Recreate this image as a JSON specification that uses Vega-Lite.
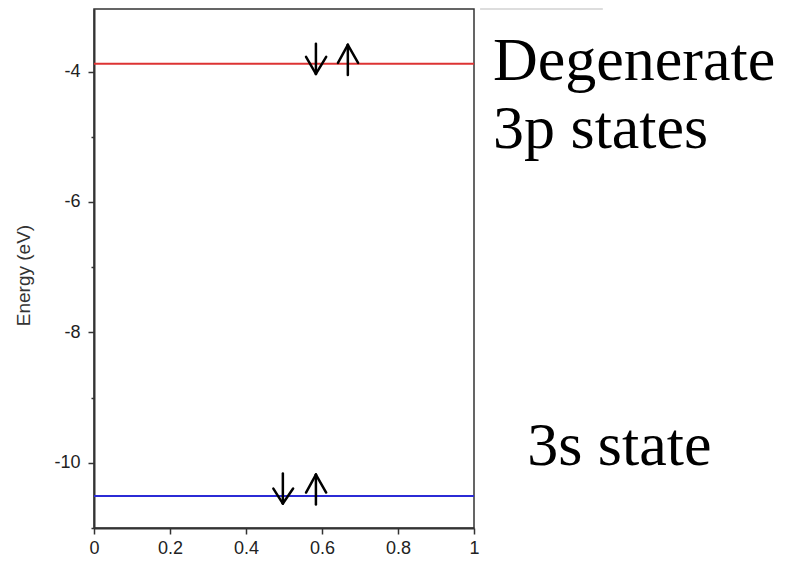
{
  "$schema": "https://vega.github.io/schema/vega-lite/v6.json",
  "width": 380,
  "height": 519,
  "autosize": {"type": "none"},
  "padding": {"left": 94, "top": 9, "right": 319, "bottom": 33},
  "background": "white",
  "config": {
    "view": {"stroke": "#333", "strokeWidth": 1.5},
    "axis": {
      "domainColor": "#333",
      "domainWidth": 2,
      "tickColor": "#333",
      "tickWidth": 1.5,
      "labelColor": "#222",
      "labelFont": "Liberation Sans",
      "labelFontSize": 18,
      "titleFont": "Liberation Sans",
      "titleFontSize": 19,
      "titleFontWeight": "normal",
      "titleColor": "#333",
      "grid": false
    }
  },
  "datasets": {
    "segs": [
      {"x": 0, "x2": 1, "y": -3.88, "y2": -3.88, "kind": "3p"},
      {"x": 0, "x2": 1, "y": -10.51, "y2": -10.51, "kind": "3s"},
      {"x": 0.584, "x2": 0.584, "y": -3.574, "y2": -4.035, "kind": "arrow"},
      {"x": 0.558, "x2": 0.584, "y": -3.774, "y2": -4.035, "kind": "arrow"},
      {"x": 0.611, "x2": 0.584, "y": -3.774, "y2": -4.035, "kind": "arrow"},
      {"x": 0.668, "x2": 0.668, "y": -3.59, "y2": -4.051, "kind": "arrow"},
      {"x": 0.642, "x2": 0.668, "y": -3.866, "y2": -3.59, "kind": "arrow"},
      {"x": 0.695, "x2": 0.668, "y": -3.866, "y2": -3.59, "kind": "arrow"},
      {"x": 0.497, "x2": 0.497, "y": -10.164, "y2": -10.625, "kind": "arrow"},
      {"x": 0.472, "x2": 0.497, "y": -10.395, "y2": -10.625, "kind": "arrow"},
      {"x": 0.524, "x2": 0.497, "y": -10.395, "y2": -10.625, "kind": "arrow"},
      {"x": 0.584, "x2": 0.584, "y": -10.18, "y2": -10.64, "kind": "arrow"},
      {"x": 0.558, "x2": 0.584, "y": -10.456, "y2": -10.18, "kind": "arrow"},
      {"x": 0.611, "x2": 0.584, "y": -10.456, "y2": -10.18, "kind": "arrow"},
      {"x": 1.016, "x2": 1.339, "y": -3.04, "y2": -3.04, "kind": "edge"}
    ],
    "labels": [
      {"x": 1.05, "y": -4.127, "label": "Degenerate"},
      {"x": 1.05, "y": -5.172, "label": "3p states"},
      {"x": 1.14, "y": -10.04, "label": "3s state"}
    ]
  },
  "layer": [
    {
      "data": {"name": "segs"},
      "transform": [{"filter": "datum.kind == '3p' || datum.kind == '3s'"}],
      "mark": {"type": "rule", "strokeWidth": 2},
      "encoding": {
        "x": {
          "field": "x", "type": "quantitative",
          "scale": {"domain": [0, 1], "nice": false, "zero": false},
          "axis": {
            "title": null,
            "values": [0, 0.1, 0.2, 0.3, 0.4, 0.5, 0.6, 0.7, 0.8, 0.9, 1],
            "format": ".1~f",
            "labelExpr": "round(datum.value*10)%2==0 ? datum.label : ''",
            "tickSize": {"condition": {"test": "round(datum.value*10)%2==1", "value": 3}, "value": 6},
            "labelPadding": 5,
            "labelFlush": false,
            "labelOverlap": false
          }
        },
        "x2": {"field": "x2"},
        "y": {
          "field": "y", "type": "quantitative",
          "scale": {"domain": [-11.0, -3.04], "nice": false, "zero": false},
          "axis": {
            "title": "Energy (eV)",
            "values": [-11, -10, -9, -8, -7, -6, -5, -4],
            "labelExpr": "abs(round(datum.value))%2==0 ? '-' + abs(datum.value) : ''",
            "tickSize": {"condition": {"test": "abs(round(datum.value))%2==1", "value": 3}, "value": 6},
            "labelPadding": 8,
            "labelFlush": false,
            "labelOverlap": false,
            "titleX": -71,
            "titleY": 266,
            "titleBaseline": "middle",
            "titleAlign": "center",
            "titleAngle": 270
          }
        },
        "color": {
          "field": "kind", "type": "nominal",
          "scale": {"domain": ["3p", "3s"], "range": ["#dd3333", "#2b2bd6"]},
          "legend": null
        }
      }
    },
    {
      "data": {"name": "segs"},
      "transform": [{"filter": "datum.kind == 'arrow'"}],
      "mark": {"type": "rule", "strokeWidth": 2.5, "color": "black", "strokeCap": "round"},
      "encoding": {
        "x": {"field": "x", "type": "quantitative"},
        "x2": {"field": "x2"},
        "y": {"field": "y", "type": "quantitative"},
        "y2": {"field": "y2"}
      }
    },
    {
      "data": {"name": "segs"},
      "transform": [{"filter": "datum.kind == 'edge'"}],
      "mark": {"type": "rule", "strokeWidth": 1, "color": "#bbbbbb"},
      "encoding": {
        "x": {"field": "x", "type": "quantitative"},
        "x2": {"field": "x2"},
        "y": {"field": "y", "type": "quantitative"}
      }
    },
    {
      "data": {"name": "labels"},
      "mark": {"type": "text", "font": "Liberation Serif", "fontSize": 62, "align": "left", "baseline": "alphabetic", "color": "black"},
      "encoding": {
        "x": {"field": "x", "type": "quantitative"},
        "y": {"field": "y", "type": "quantitative"},
        "text": {"field": "label"}
      }
    }
  ]
}
